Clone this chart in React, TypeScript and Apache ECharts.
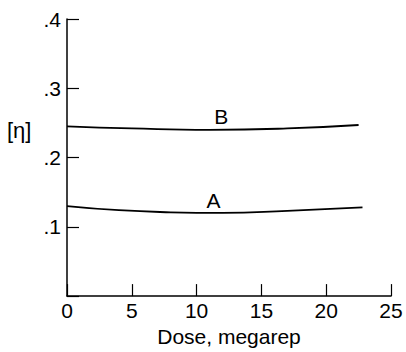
import React, { useEffect, useRef } from "react";
import * as echarts from "echarts";

const xTicks = [0, 5, 10, 15, 20, 25];
const yTicks = [0.1, 0.2, 0.3, 0.4];
const seriesA: [number, number][] = [
  [0, 0.130], [4, 0.124], [8, 0.121], [12, 0.120], [17, 0.123], [22.8, 0.128],
];
const seriesB: [number, number][] = [
  [0, 0.245], [5, 0.242], [11, 0.240], [17, 0.242], [22.5, 0.247],
];
const labelA = { name: "A", coord: [11.3, 0.138] };
const labelB = { name: "B", coord: [11.9, 0.259] };

const FONT = "Liberation Sans";

export default function App() {
  const ref = useRef<HTMLDivElement>(null);
  useEffect(() => {
    if (!ref.current) return;
    const chart = echarts.init(ref.current, undefined, { renderer: "svg" });
    const mk = (l: { name: string; coord: number[] }) => ({
      symbol: "circle",
      symbolSize: 0,
      silent: true,
      label: {
        show: true,
        position: "inside",
        formatter: l.name,
        color: "#000",
        fontSize: 21,
        fontFamily: FONT,
      },
      data: [{ coord: l.coord }],
    });
    chart.setOption({
      animation: false,
      backgroundColor: "#fff",
      grid: { left: 67, right: 15, top: 19, bottom: 49, containLabel: false },
      xAxis: {
        type: "value",
        min: 0,
        max: 25,
        interval: 5,
        name: "Dose, megarep",
        nameLocation: "middle",
        nameGap: 22,
        nameTextStyle: { color: "#000", fontSize: 21, fontFamily: FONT },
        axisLine: { show: true, lineStyle: { color: "#000", width: 1.5 } },
        axisTick: { show: true, inside: true, length: 12, lineStyle: { color: "#000", width: 1.2 } },
        axisLabel: {
          color: "#000",
          fontSize: 21,
          fontFamily: FONT,
          margin: 4,
          customValues: xTicks,
        },
        splitLine: { show: false },
      },
      yAxis: {
        type: "value",
        min: 0,
        max: 0.4,
        interval: 0.1,
        axisLine: { show: true, lineStyle: { color: "#000", width: 1.5 } },
        axisTick: { show: true, inside: true, length: 12, lineStyle: { color: "#000", width: 1.2 } },
        axisLabel: {
          color: "#000",
          fontSize: 21,
          fontFamily: FONT,
          margin: 6,
          formatter: (v: number) => {
            const t = yTicks.find((y) => Math.abs(y - v) < 1e-9);
            return t === undefined ? "" : t.toFixed(1).replace(/^0/, "");
          },
        },
        splitLine: { show: false },
      },
      graphic: [
        {
          type: "text",
          left: 7,
          top: 119,
          style: {
            text: "[η]",
            fill: "#000",
            fontSize: 22,
            fontFamily: FONT,
          },
        },
      ],
      series: [
        {
          type: "line",
          data: seriesA,
          smooth: true,
          symbol: "none",
          lineStyle: { color: "#000", width: 1.8 },
          markPoint: mk(labelA),
        },
        {
          type: "line",
          data: seriesB,
          smooth: true,
          symbol: "none",
          lineStyle: { color: "#000", width: 1.8 },
          markPoint: mk(labelB),
        },
      ],
    });
    return () => chart.dispose();
  }, []);
  return <div ref={ref} style={{ width: 406, height: 352, position: "absolute", left: 0, top: 0 }} />;
}
